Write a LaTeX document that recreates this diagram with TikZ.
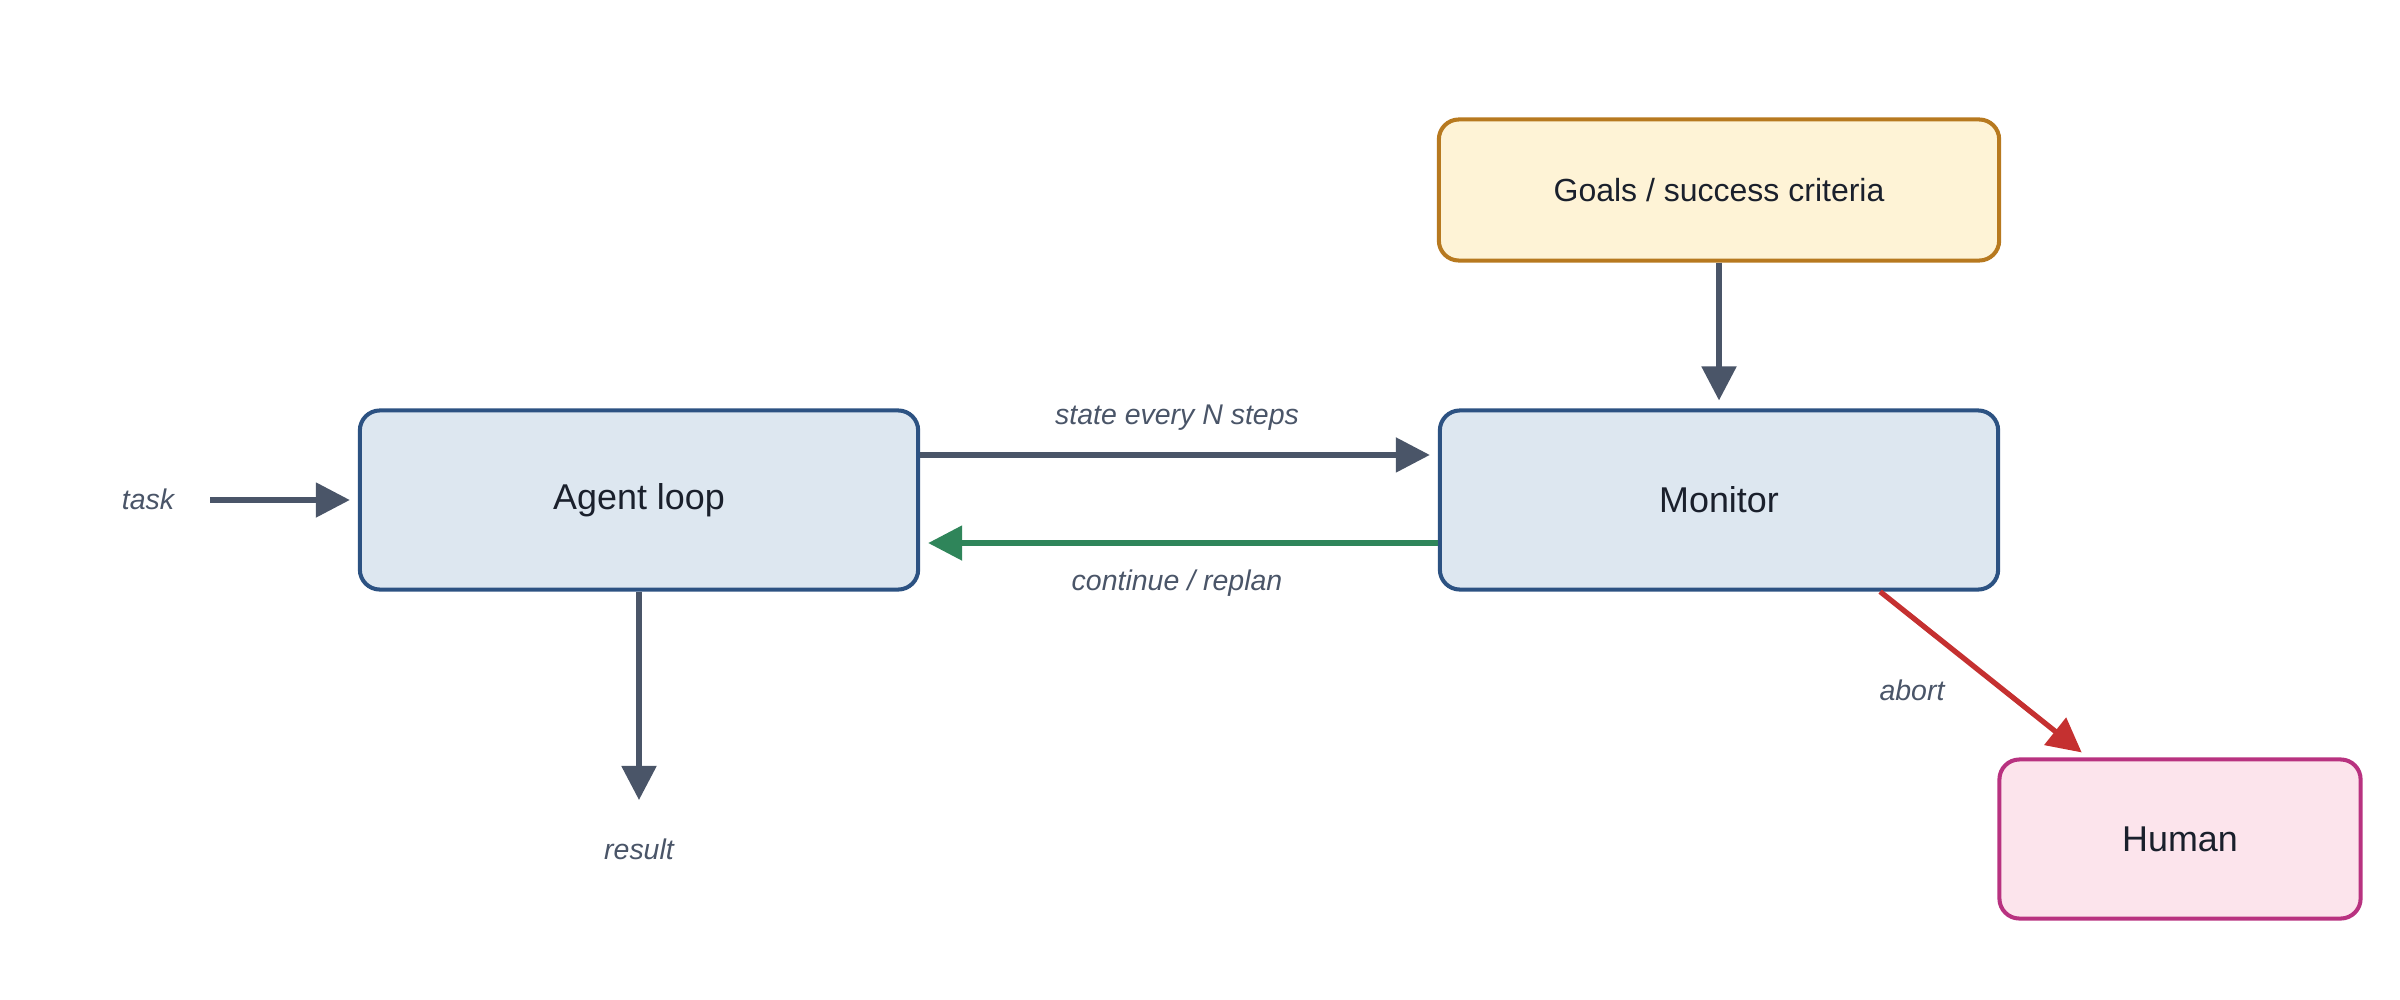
\documentclass[tikz,border=0pt]{standalone}
\usepackage{fontspec}
\setmainfont{Liberation Sans}
\usetikzlibrary{arrows.meta}
\definecolor{boxblue}{HTML}{DDE7F0}
\definecolor{edgeblue}{HTML}{2C5282}
\definecolor{boxgold}{HTML}{FEF3D6}
\definecolor{edgegold}{HTML}{B7791F}
\definecolor{boxpink}{HTML}{FCE4EC}
\definecolor{edgepink}{HTML}{B83280}
\definecolor{arrgray}{HTML}{4A5568}
\definecolor{arrgreen}{HTML}{2F855A}
\definecolor{arrred}{HTML}{C53030}
\definecolor{txtdark}{HTML}{1A202C}
\tikzset{
  box/.style={draw, rectangle, rounded corners=0.2cm, line width=1.15pt,
    text=txtdark, font=\fontsize{10.2}{12}\selectfont, inner sep=0pt},
  bluebox/.style={box, fill=boxblue, draw=edgeblue, minimum width=5.58cm, minimum height=1.79cm},
  goalbox/.style={box, fill=boxgold, draw=edgegold, minimum width=5.6cm, minimum height=1.41cm,
    font=\fontsize{9.1}{11}\selectfont},
  humanbox/.style={box, fill=boxpink, draw=edgepink, minimum width=3.61cm, minimum height=1.59cm},
  arr/.style={line width=1.5pt, draw=arrgray, -{Triangle[length=0.34cm, width=0.34cm]}, shorten >=0.08cm},
  lbl/.style={text=arrgray, font=\fontsize{8.1}{10}\selectfont\itshape, inner sep=0pt}
}
\begin{document}
\begin{tikzpicture}[x=0.01cm, y=-0.01cm]
\useasboundingbox (0,0) rectangle (2400,1000);
\node[bluebox] (agent) at (639,500) {Agent loop};
\node[bluebox] (monitor) at (1719,500) {Monitor};
\node[goalbox] (goals) at (1719,190) {Goals / success criteria};
\node[humanbox] (human) at (2180,839) {Human};

\node[lbl] (task) at (148,499) {task};
\coordinate (taskstart) at (210,500);
\draw[arr] (taskstart) -- (agent.west);

\draw[arr] ([yshift=0.45cm]agent.east) -- ([yshift=0.45cm]monitor.west);
\node[lbl] (statelbl) at (1177,418) {state every N steps};

\draw[arr, draw=arrgreen] ([yshift=-0.43cm]monitor.west) -- ([yshift=-0.43cm]agent.east);
\node[lbl] (contlbl) at (1177,583) {continue / replan};

\draw[arr] (goals.south) -- (monitor.north);

\coordinate (resend) at (639,808);
\draw[arr] (agent.south) -- (resend);
\node[lbl] (result) at (639,849) {result};

\draw[arr, draw=arrred] ([xshift=1.61cm]monitor.south) -- ([xshift=-0.92cm]human.north);
\node[lbl] (abort) at (1912,690) {abort};
\end{tikzpicture}
\end{document}
